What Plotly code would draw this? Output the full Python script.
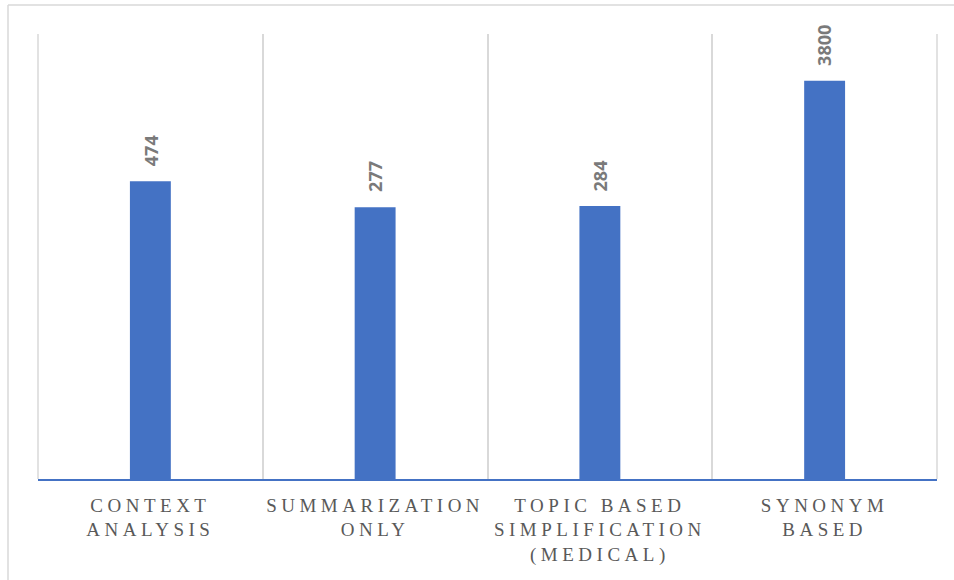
import math
import plotly.graph_objects as go

categories = ["CONTEXT<br>ANALYSIS", "SUMMARIZATION<br>ONLY",
              "TOPIC BASED<br>SIMPLIFICATION<br>(MEDICAL)", "SYNONYM<br>BASED"]
values = [474, 277, 284, 3800]
value_labels = ["474", "277", "284", "3800"]

BAR = "#4472C4"
GRID = "#D9D9D9"
W, H = 954, 580
ml, mr, mt, mb = 38, 17, 34, 101
pw, ph = W - ml - mr, H - mt - mb

def px_x(p):
    return (p - ml) / pw

def px_y(p):
    return (H - mb - p) / ph

fig = go.Figure()
fig.add_trace(go.Bar(x=categories, y=values, marker=dict(color=BAR, line=dict(width=0)),
                     hoverinfo="skip"))

for c, v, t in zip(categories, values, value_labels):
    fig.add_annotation(x=c, y=math.log10(v), yref="y", xref="x", text=t, showarrow=False,
                       textangle=-90, yanchor="bottom", xanchor="center", yshift=13,
                       font=dict(family="Open Sans", size=18, color="#7A7A7A", weight="bold"))

# chart border (top and left visible)
fig.add_shape(type="line", xref="paper", yref="paper", x0=px_x(8), x1=px_x(954),
              y0=px_y(5), y1=px_y(5), line=dict(color=GRID, width=1.5), layer="below")
fig.add_shape(type="line", xref="paper", yref="paper", x0=px_x(8), x1=px_x(8),
              y0=px_y(5), y1=px_y(580), line=dict(color=GRID, width=1.5), layer="below")
# outer category boundary gridlines
for xp in (0, 1):
    fig.add_shape(type="line", xref="paper", yref="paper", x0=xp, x1=xp, y0=0, y1=1,
                  line=dict(color=GRID, width=1.5), layer="below")

fig.update_layout(
    width=W, height=H, margin=dict(l=ml, r=mr, t=mt, b=mb),
    paper_bgcolor="white", plot_bgcolor="white", showlegend=False,
    bargap=0.818,
    xaxis=dict(type="category", range=[-0.5, 3.5], tickson="boundaries", showgrid=True,
               gridcolor=GRID, gridwidth=1.5, ticks="", showline=True,
               linecolor=BAR, linewidth=1.5, zeroline=False, ticklabelstandoff=8,
               tickfont=dict(family="Liberation Serif", size=19, color="#595959")),
    yaxis=dict(type="log", range=[0, 4], showgrid=False, showticklabels=False,
               zeroline=False, showline=False, ticks=""),
)

post = """
document.querySelectorAll('.xtick text').forEach(function(e){e.style.letterSpacing='4.5px';});
"""
fig.write_html("out.html", post_script=post)
